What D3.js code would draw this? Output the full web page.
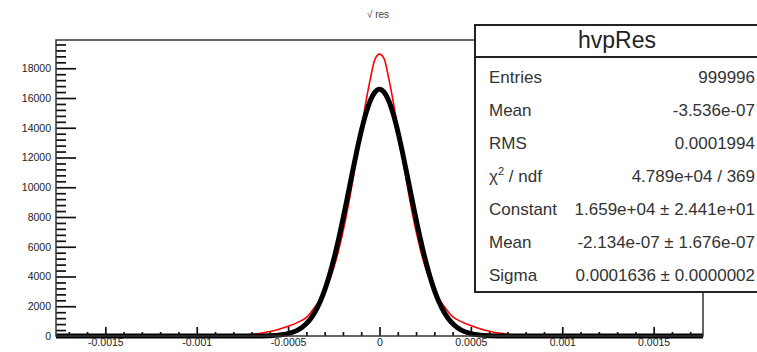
<!DOCTYPE html>
<html>
<head>
<meta charset="utf-8">
<script src="https://cdn.jsdelivr.net/npm/d3@7"></script>
<style>
  body { margin: 0; background: #fff; }
  svg { display: block; font-family: 'Liberation Sans', Arial, sans-serif; }
</style>
</head>
<body>
<div id="chart"></div>
<script>
// residual bins (x) and histogram counts (red)
const histX = [-0.00177, -0.001, -0.0009, -0.0008, -0.00075, -0.0007, -0.00065, -0.0006, -0.00055, -0.0005, -0.00045, -0.0004,
  -0.000375, -0.00035, -0.000325, -0.0003, -0.000275, -0.00025, -0.000225, -0.0002, -0.000175, -0.00015, -0.000125, -0.0001,
  -0.000075, -0.00005, -0.000025, 0, 0.000025, 0.00005, 0.000075, 0.0001, 0.000125, 0.00015, 0.000175, 0.0002, 0.000225,
  0.00025, 0.000275, 0.0003, 0.000325, 0.00035, 0.000375, 0.0004, 0.00045, 0.0005, 0.00055, 0.0006, 0.00065, 0.0007,
  0.00075, 0.0008, 0.0009, 0.001, 0.00177];
const histY = [0, 2, 8, 30, 60, 110, 190, 300, 450, 650, 900, 1250,
  1600, 2000, 2450, 3000, 3700, 4600, 5700, 7000, 8500, 10200, 12000, 13900,
  15700, 17300, 18600, 18950, 18650, 17350, 15750, 13950, 12050, 10250, 8550, 7050, 5750,
  4650, 3750, 3050, 2500, 2050, 1650, 1300, 950, 700, 480, 320, 200, 120,
  65, 32, 9, 2, 0];

// gaussian fit curve (black)
const fitX = [-0.00177, -0.0007, -0.0006, -0.00055, -0.0005, -0.00045, -0.000425, -0.0004, -0.000375, -0.00035, -0.000325,
  -0.0003, -0.000275, -0.00025, -0.000225, -0.0002, -0.000175, -0.00015, -0.000125, -0.0001, -0.000075, -0.00005,
  -0.000025, 0, 0.000025, 0.00005, 0.000075, 0.0001, 0.000125, 0.00015, 0.000175, 0.0002, 0.000225, 0.00025,
  0.000275, 0.0003, 0.000325, 0.00035, 0.000375, 0.0004, 0.000425, 0.00045, 0.0005, 0.00055, 0.0006, 0.0007, 0.00177];
const fitY = [0, 1, 20, 58, 155, 377, 568, 835, 1199, 1682, 2306,
  3088, 4040, 5161, 6444, 7859, 9362, 10896, 12391, 13763, 14936, 15834,
  16397, 16590, 16397, 15834, 14936, 13763, 12391, 10896, 9362, 7859, 6444, 5161,
  4040, 3088, 2306, 1682, 1199, 835, 568, 377, 155, 58, 20, 1, 0];

const xTicks = [-0.0015, -0.001, -0.0005, 0, 0.0005, 0.001, 0.0015];
const xTickLabels = ['-0.0015', '-0.001', '-0.0005', '0', '0.0005', '0.001', '0.0015'];
const yTicks = [0, 2000, 4000, 6000, 8000, 10000, 12000, 14000, 16000, 18000];
const yTickLabels = ['0', '2000', '4000', '6000', '8000', '10000', '12000', '14000', '16000', '18000'];

const statsTitle = 'hvpRes';
const statsLabels = ['Entries', 'Mean', 'RMS', 'χ2 / ndf', 'Constant', 'Mean', 'Sigma'];
const statsValues = ['999996', '-3.536e-07', '0.0001994', '4.789e+04 / 369',
  '1.659e+04 ± 2.441e+01', '-2.134e-07 ± 1.676e-07', '0.0001636 ± 0.0000002'];

const W = 757, H = 352;
const frame = {left: 56, right: 703, top: 40, bottom: 336};

const svg = d3.select('#chart').append('svg')
  .attr('width', W)
  .attr('height', H);

svg.append('rect').attr('width', W).attr('height', H).attr('fill', '#fff');

const x = d3.scaleLinear().domain([-0.00177, 0.00177]).range([frame.left, frame.right]);
const y = d3.scaleLinear().domain([0, 19900]).range([frame.bottom, frame.top]);

svg.append('text')
  .attr('x', 378)
  .attr('y', 18)
  .attr('text-anchor', 'middle')
  .style('font-size', '10px')
  .style('fill', '#444')
  .text('√ res');

svg.append('defs').append('clipPath').attr('id', 'clip')
  .append('rect')
  .attr('x', frame.left).attr('y', frame.top - 10)
  .attr('width', frame.right - frame.left).attr('height', frame.bottom - frame.top + 14);

const plot = svg.append('g').attr('clip-path', 'url(#clip)');

const line = d3.line().curve(d3.curveMonotoneX);

plot.append('path')
  .attr('d', line(histX.map((d, i) => [x(d), y(histY[i])])))
  .attr('fill', 'none')
  .attr('stroke', '#f00')
  .attr('stroke-width', 1.6);

plot.append('path')
  .attr('d', line(fitX.map((d, i) => [x(d), y(fitY[i])])))
  .attr('fill', 'none')
  .attr('stroke', '#000')
  .attr('stroke-width', 5)
  .attr('stroke-linejoin', 'round');

// axes
const xMinor = d3.range(-17, 18).map(d => d * 0.0001).filter(d => Math.abs(Math.round(d * 10000)) % 5 !== 0);
const yMinor = d3.range(0, 19900, 400).filter(d => d % 2000 !== 0);

function styleAxis(g) {
  g.select('.domain').remove();
  g.selectAll('line').attr('stroke', '#111').attr('stroke-width', 1.7);
  g.selectAll('text').style('fill', '#222').style('font-size', '10.5px')
    .style('font-family', "'Liberation Sans', Arial, sans-serif");
}

svg.append('g')
  .attr('transform', `translate(0,${frame.bottom})`)
  .call(d3.axisBottom(x).tickValues(xMinor).tickSize(-4).tickFormat(''))
  .call(styleAxis);

svg.append('g')
  .attr('transform', `translate(0,${frame.bottom})`)
  .call(d3.axisBottom(x).tickValues(xTicks).tickSize(-9).tickPadding(3)
    .tickFormat((d, i) => xTickLabels[i]))
  .call(styleAxis);

svg.append('g')
  .attr('transform', `translate(${frame.left},0)`)
  .call(d3.axisLeft(y).tickValues(yMinor).tickSize(-10).tickFormat(''))
  .call(styleAxis);

svg.append('g')
  .attr('transform', `translate(${frame.left},0)`)
  .call(d3.axisLeft(y).tickValues(yTicks).tickSize(-20).tickPadding(5)
    .tickFormat((d, i) => yTickLabels[i]))
  .call(styleAxis);

// frame
svg.append('rect')
  .attr('x', frame.left).attr('y', frame.top)
  .attr('width', frame.right - frame.left).attr('height', frame.bottom - frame.top)
  .attr('fill', 'none')
  .attr('stroke', '#333')
  .attr('stroke-width', 1.5);

// stats box
const box = {left: 475, top: 25, right: 759, bottom: 292, header: 57};
const stats = svg.append('g');

stats.append('rect')
  .attr('x', box.left).attr('y', box.top)
  .attr('width', box.right - box.left).attr('height', box.bottom - box.top)
  .attr('fill', '#fff')
  .attr('stroke', '#222')
  .attr('stroke-width', 2);

stats.append('line')
  .attr('x1', box.left).attr('x2', box.right)
  .attr('y1', box.header).attr('y2', box.header)
  .attr('stroke', '#222')
  .attr('stroke-width', 2);

stats.append('text')
  .attr('x', (box.left + box.right) / 2)
  .attr('y', 48)
  .attr('text-anchor', 'middle')
  .style('font-size', '23px')
  .style('fill', '#222')
  .text(statsTitle);

const rowY = d3.scalePoint().domain(d3.range(statsLabels.length)).range([83, 281]);

statsLabels.forEach((lab, i) => {
  const t = stats.append('text')
    .attr('x', 489)
    .attr('y', rowY(i))
    .style('font-size', '17px')
    .style('fill', '#333');
  if (lab.startsWith('χ2')) {
    t.append('tspan').text('χ');
    t.append('tspan').attr('dy', -7).style('font-size', '11px').text('2');
    t.append('tspan').attr('dy', 7).text(' / ndf');
  } else {
    t.text(lab);
  }
  stats.append('text')
    .attr('x', 755)
    .attr('y', rowY(i))
    .attr('text-anchor', 'end')
    .style('font-size', '17px')
    .style('fill', '#333')
    .text(statsValues[i]);
});
</script>
</body>
</html>
